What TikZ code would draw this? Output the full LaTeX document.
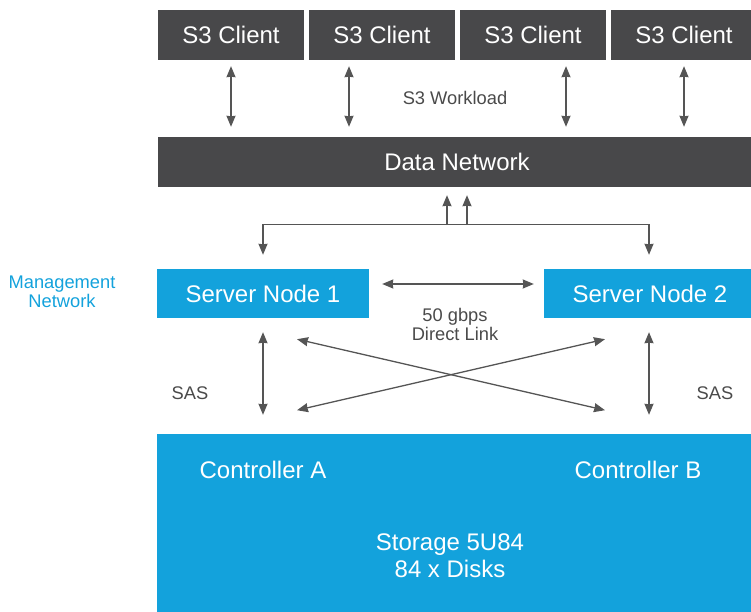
\documentclass[tikz,border=0pt]{standalone}
\usepackage{fontspec}
\setmainfont{Liberation Sans}
\usetikzlibrary{arrows.meta,calc}
\definecolor{darkbox}{HTML}{48484A}
\definecolor{bluebox}{HTML}{13A2DC}
\definecolor{txtgray}{HTML}{4A4A4A}
\definecolor{arrgray}{HTML}{555555}
\def\big{\fontsize{24}{28}\selectfont}
\def\small{\fontsize{18.3}{22}\selectfont}

\begin{document}
\begin{tikzpicture}[x=1pt,y=-1pt,
  client/.style={fill=darkbox,text=white,inner sep=0,minimum width=146pt,minimum height=50pt,font=\big},
  server/.style={fill=bluebox,text=white,inner sep=0,minimum width=212pt,minimum height=49pt,font=\big},
  label/.style={text=txtgray,font=\small,align=center},
  inbox/.style={text=white,font=\big,align=center},
  arr/.style={draw=arrgray,line width=1.3pt,-{Stealth[length=11pt,width=9pt,inset=0.5pt]}},
  dbl/.style={draw=arrgray,line width=1.3pt,{Stealth[length=11pt,width=9pt,inset=0.5pt]}-{Stealth[length=11pt,width=9pt,inset=0.5pt]}}]
  \useasboundingbox (0,0) rectangle (751,612);

  \node[client] (c1) at (231,35) {S3 Client};
  \node[client] (c2) at (382,35) {S3 Client};
  \node[client] (c3) at (533,35) {S3 Client};
  \node[client] (c4) at (684,35) {S3 Client};
  \node[client,minimum width=598pt,minimum height=50pt] (net) at (457,162) {Data Network};
  \node[server] (s1) at (263,293.5) {Server Node 1};
  \node[server] (s2) at (650,293.5) {Server Node 2};
  \node[server,minimum width=600pt,minimum height=178pt] (store) at (457,523) {};
  \node[inbox] (ca) at (263,470) {Controller A};
  \node[inbox] (cb) at (638,470) {Controller B};
  \node[inbox] (disks) at (450,555.5) {Storage 5U84\\[-1pt]84 x Disks};

  \node[label] (work) at (455,98) {S3 Workload};
  \node[label] (link) at (455,324) {50 gbps\\[-3pt]Direct Link};
  \node[label] (sasl) at (190,393) {SAS};
  \node[label] (sasr) at (715,393) {SAS};
  \node[label,text=bluebox] (mgmt) at (62,292) {Management\\[-3pt]Network};

  \foreach \c/\dx in {c1/0,c2/-33,c3/33,c4/0}
    \draw[dbl] ($(\c.south)+(\dx,6)$) -- ($(\c.south |- net.north)+(\dx,-10)$);

  \draw[arr] ($(net.south)+(-10,38)$) -- ($(net.south)+(-10,8)$);
  \draw[arr] ($(net.south)+(10,38)$) -- ($(net.south)+(10,8)$);
  \draw[dbl] ($(s1.north)+(0,-14)$) -- ++(0,-30) -| ($(s2.north)+(-1,-14)$);

  \draw[dbl] ($(s1.east)+(13,-9.5)$) -- ($(s2.west)+(-10,-9.5)$);

  \draw[dbl] ($(s1.south)+(0,14)$) -- ($(s1.south |- store.north)+(0,-19)$);
  \draw[dbl] ($(s2.south)+(-1,14)$) -- ($(s2.south |- store.north)+(-1,-19)$);
  \draw[dbl] ($(s1.south)+(34,21)$) -- ($(s2.south)+(-45,92)$);
  \draw[dbl] ($(s1.south)+(34,92)$) -- ($(s2.south)+(-45,21)$);
\end{tikzpicture}
\end{document}
